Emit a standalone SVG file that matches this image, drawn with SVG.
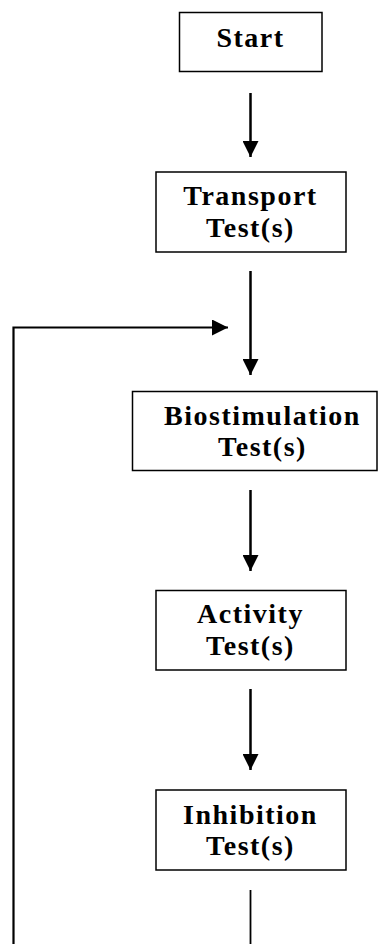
<svg xmlns="http://www.w3.org/2000/svg" width="382" height="944" viewBox="0 0 382 944">
<style>
.box{fill:#fff;stroke:#000;stroke-width:1.5}
.lbl{font-family:"Liberation Serif","Times New Roman",serif;font-weight:bold;font-size:28px;letter-spacing:1.5px;text-anchor:middle;fill:#000}
.con{fill:none;stroke:#000;stroke-width:2.5}
</style>
<defs>
<marker id="ah" markerUnits="userSpaceOnUse" markerWidth="16" markerHeight="16" viewBox="0 0 16 16" refX="16" refY="8" orient="auto">
<path d="M0,0 L16,8 L0,16 Z" fill="#000"/>
</marker>
</defs>
<rect width="382" height="944" fill="#fff"/>
<g id="connectors">
<line class="con" x1="250.5" y1="93" x2="250.5" y2="157" marker-end="url(#ah)"/>
<line class="con" x1="250.5" y1="271" x2="250.5" y2="375" marker-end="url(#ah)"/>
<line class="con" x1="250.5" y1="490" x2="250.5" y2="571" marker-end="url(#ah)"/>
<line class="con" x1="250.5" y1="689" x2="250.5" y2="770" marker-end="url(#ah)"/>
<polyline class="con" points="13.5,944 13.5,327.5 228,327.5" marker-end="url(#ah)" style="stroke-width:2.2"/>
<line class="con" x1="250.5" y1="890" x2="250.5" y2="944" style="stroke-width:1.8"/>
</g>
<g id="start">
<rect class="box" x="179.5" y="12.5" width="142.5" height="59"/>
<text class="lbl" x="250.5" y="47">Start</text>
</g>
<g id="transport">
<rect class="box" x="156" y="172" width="190" height="80"/>
<text class="lbl" x="250.5" y="205">Transport</text>
<text class="lbl" x="250.5" y="237">Test(s)</text>
</g>
<g id="biostimulation">
<rect class="box" x="132.5" y="391.5" width="244.5" height="79"/>
<text class="lbl" x="262.5" y="425">Biostimulation</text>
<text class="lbl" x="262.5" y="456">Test(s)</text>
</g>
<g id="activity">
<rect class="box" x="156" y="590.5" width="190" height="79.5"/>
<text class="lbl" x="250.5" y="623">Activity</text>
<text class="lbl" x="250.5" y="655">Test(s)</text>
</g>
<g id="inhibition">
<rect class="box" x="156" y="790" width="190" height="80"/>
<text class="lbl" x="250.5" y="824">Inhibition</text>
<text class="lbl" x="250.5" y="855">Test(s)</text>
</g>
</svg>
